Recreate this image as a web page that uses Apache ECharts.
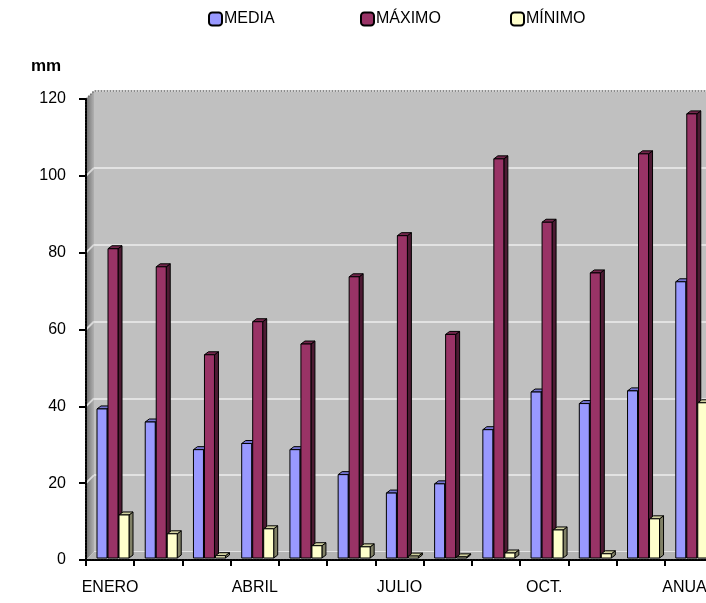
<!DOCTYPE html>
<html>
<head>
<meta charset="utf-8">
<script src="https://cdn.jsdelivr.net/npm/echarts@6/dist/echarts.min.js"></script>
<style>
  html, body { margin: 0; padding: 0; background: #ffffff; }
  #chart { width: 706px; height: 603px; }
</style>
</head>
<body>
<div id="chart"></div>
<script>
// Precipitación mensual (mm): media, máximo y mínimo
const categories = ['ENERO', 'FEBRERO', 'MARZO', 'ABRIL', 'MAYO', 'JUNIO', 'JULIO',
                    'AGOSTO', 'SEPT.', 'OCT.', 'NOV.', 'DIC.', 'ANUAL'];
const media  = [38.8, 35.4, 28.2, 29.8, 28.2, 21.7, 16.9, 19.3, 33.4, 43.2, 40.2, 43.5, 71.9];
const maximo = [80.5, 75.8, 52.9, 61.5, 55.7, 73.2, 83.9, 58.2, 103.9, 87.4, 74.2, 105.2, 115.6];
const minimo = [11.2, 6.3, 0.6, 7.6, 3.2, 2.9, 0.5, 0.3, 1.3, 7.3, 1.1, 10.2, 40.4];
const yTicks = [0, 20, 40, 60, 80, 100, 120];

const FONT = "'Liberation Sans', Arial, sans-serif";
const DX = 8, DY = -8;          // depth of the 3D walls
const BAR_W = 10, BAR_STEP = 11, BAR_START = 11, BAR_DX = 4, BAR_DY = -3, LIFT = 2;

const seriesDefs = [
  { name: 'MEDIA',  data: media,  front: '#9999FF', top: '#7373D0', side: '#4D4D80', legendLeft: 203 },
  { name: 'MÁXIMO', data: maximo, front: '#993366', top: '#73264C', side: '#4D1A33', legendLeft: 355 },
  { name: 'MÍNIMO', data: minimo, front: '#FFFFCC', top: '#D0D0A0', side: '#808066', legendLeft: 505 }
];

function makeRender(s, def) {
  return function (params, api) {
    const i = api.value(0), v = api.value(1);
    const base = api.coord([i, 0]);
    const topPt = api.coord([i, v]);
    const cw = api.size([1, 0])[0];
    const x = base[0] - cw / 2 + BAR_START + s * BAR_STEP;
    const yb = base[1] - LIFT, yt = topPt[1] - LIFT;
    const stroke = { stroke: '#000', lineWidth: 1 };
    return {
      type: 'group',
      children: [
        { type: 'polygon', shape: { points: [[x + BAR_W, yt], [x + BAR_W + BAR_DX, yt + BAR_DY], [x + BAR_W + BAR_DX, yb + BAR_DY], [x + BAR_W, yb]] },
          style: Object.assign({ fill: def.side }, stroke) },
        { type: 'polygon', shape: { points: [[x, yt], [x + BAR_DX, yt + BAR_DY], [x + BAR_W + BAR_DX, yt + BAR_DY], [x + BAR_W, yt]] },
          style: Object.assign({ fill: def.top }, stroke) },
        { type: 'rect', shape: { x: x, y: yt, width: BAR_W, height: yb - yt },
          style: Object.assign({ fill: def.front }, stroke) }
      ]
    };
  };
}

const chart = echarts.init(document.getElementById('chart'), null, { renderer: 'canvas' });

const option = {
  animation: false,
  textStyle: { fontFamily: FONT, color: '#000' },
  title: {
    text: 'mm', left: 31, top: 58, padding: 0,
    textStyle: { fontFamily: FONT, fontSize: 17, fontWeight: 'bold', color: '#000' }
  },
  // one legend block per series so each item sits in its own slot
  legend: seriesDefs.map(d => ({
    data: [d.name],
    left: d.legendLeft, top: 6,
    icon: 'roundRect',
    itemWidth: 13, itemHeight: 13, itemGap: 4,
    textStyle: { fontFamily: FONT, fontSize: 16, color: '#000', padding: [0, 0, 0, -3] }
  })),
  grid: [
    { left: 86, top: 99, right: -7, bottom: 43, outerBoundsMode: 'none', containLabel: false },
    { left: 94, top: 91, right: -30, bottom: 51, outerBoundsMode: 'none', containLabel: false,
      show: true, backgroundColor: '#C0C0C0', borderWidth: 0 }
  ],
  xAxis: [
    {
      type: 'category', data: categories, gridIndex: 0,
      axisLine: { lineStyle: { color: '#000', width: 2, type: [2, 1] } },
      axisTick: { show: true, interval: 0, length: 6, lineStyle: { color: '#000', width: 2 } },
      axisLabel: { interval: 2, fontSize: 16, color: '#000', margin: 20, fontFamily: FONT },
      z: 5
    },
    { type: 'value', gridIndex: 1, show: false, min: 0, max: 1 }
  ],
  yAxis: [
    {
      type: 'value', gridIndex: 0, min: 0, max: 120, interval: 20,
      axisLine: { show: true, lineStyle: { color: '#000', width: 2, type: [2, 1] } },
      axisTick: { show: true, length: 7, lineStyle: { color: '#000', width: 2 } },
      axisLabel: { fontSize: 16, color: '#000', margin: 20, fontFamily: FONT },
      splitLine: { show: false },
      z: 5
    },
    {
      type: 'value', gridIndex: 1, min: 0, max: 120, interval: 20,
      axisLine: { show: false }, axisTick: { show: false }, axisLabel: { show: false },
      splitLine: { show: true, lineStyle: { color: '#E2E2E2', width: 2 } }
    }
  ],
  series: seriesDefs.map((d, s) => ({
    name: d.name,
    type: 'custom',
    xAxisIndex: 0, yAxisIndex: 0,
    clip: false,
    z: 3,
    itemStyle: { color: d.front, borderColor: '#000', borderWidth: 3 },
    renderItem: makeRender(s, d),
    encode: { x: 0, y: 1 },
    data: d.data.map((v, i) => [i, v])
  }))
};

chart.setOption(option);

// Side wall, floor and wall edges of the 3D plot box
const catW = chart.convertToPixel({ xAxisIndex: 0 }, 1) - chart.convertToPixel({ xAxisIndex: 0 }, 0);
const x0 = chart.convertToPixel({ xAxisIndex: 0 }, 0) - catW / 2;
const xR = chart.convertToPixel({ xAxisIndex: 0 }, categories.length - 1) + catW / 2 + 40;
const yAt = v => chart.convertToPixel({ yAxisIndex: 0 }, v);
const yTop = yAt(120), yBot = yAt(0);

const wallLines = yTicks.slice(1, -1).map(t => ({
  type: 'line', z: 1, silent: true,
  shape: { x1: x0, y1: yAt(t), x2: x0 + DX, y2: yAt(t) + DY },
  style: { stroke: '#D8D8D8', lineWidth: 2 }
}));

chart.setOption({
  graphic: [
    {
      type: 'polygon', z: 0, silent: true,
      shape: { points: [[x0, yTop], [x0 + DX, yTop + DY], [x0 + DX, yBot + DY], [x0, yBot]] },
      style: {
        fill: new echarts.graphic.LinearGradient(0, 0, 1, 0, [
          { offset: 0, color: '#6E6E6E' }, { offset: 1, color: '#B0B0B0' }
        ])
      }
    },
    {
      type: 'polygon', z: 0, silent: true,
      shape: { points: [[x0, yBot], [x0 + DX, yBot + DY], [xR, yBot + DY], [xR, yBot]] },
      style: { fill: '#B4B4B4' }
    },
    ...wallLines,
    {
      type: 'polyline', z: 1, silent: true,
      shape: { points: [[x0, yTop], [x0 + DX, yTop + DY], [xR, yTop + DY]] },
      style: { stroke: '#707070', lineWidth: 1.5, lineDash: [1.5, 1.5], fill: null }
    }
  ]
});
</script>
</body>
</html>
